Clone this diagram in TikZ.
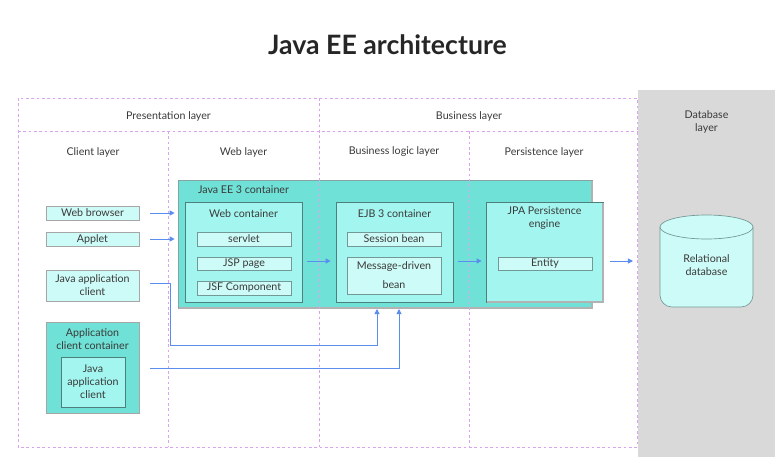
\documentclass[tikz,border=0pt]{standalone}
\usepackage{fontspec}
\setmainfont{Lato}
\usetikzlibrary{arrows.meta,fit,calc}
\definecolor{vdash}{HTML}{D9A3EE}
\definecolor{dbgray}{HTML}{D9D9D9}
\definecolor{teal1}{HTML}{6FE1D6}
\definecolor{teal2}{HTML}{A3F6F0}
\definecolor{teal3}{HTML}{CDFBF7}
\definecolor{bord}{HTML}{4F7F7C}
\definecolor{txt}{HTML}{3A3A3A}
\definecolor{arrblue}{HTML}{5B8DEF}
\tikzset{
  lbl/.style={font=\fontsize{8pt}{9.6pt}\selectfont, text=txt, align=center, inner sep=0},
  outerbox/.style={fill=teal1, draw=bord!70, line width=0.5pt, inner sep=0},
  midbox/.style={fill=teal2, draw=bord, line width=0.5pt, inner sep=0},
  itembox/.style={fill=teal3, draw=bord!80, line width=0.5pt, inner sep=0},
  clientbox/.style={fill=teal3, draw=gray!70, line width=0.6pt, inner sep=0},
  frame/.style={draw=vdash, dashed, dash pattern=on 2pt off 2pt, line width=0.5pt},
  arr/.style={draw=arrblue, line width=0.7pt, -{Triangle[length=3.8pt,width=3.8pt]}},
}
\begin{document}
\begin{tikzpicture}[x=0.75pt,y=-0.75pt]
\useasboundingbox (0,0) rectangle (775,457);
\fill[white] (0,0) rectangle (775,457);
% database region
\fill[dbgray] (638,90) rectangle (775,457);
% title
\node[font=\fontsize{20pt}{22pt}\selectfont\bfseries, text=black!85] (title) at (387.5,45) {Java EE architecture};
% layer labels
\node[lbl] (pres) at (168.5,116) {Presentation layer};
\node[lbl] (bus) at (469,116) {Business layer};
\node[lbl] (client) at (93,152) {Client layer};
\node[lbl] (web) at (243.5,152) {Web layer};
\node[lbl] (bll) at (394,152) {Business logic layer};
\node[lbl] (pers) at (544,152) {Persistence layer};
\node[lbl] (dbl) at (706.5,122) {Database\\layer};
% Java EE 3 container
\node[outerbox, fit={(178,180) (592,308)}] (javaee) {};
\draw[gray!60, line width=1pt] (178.5,308) -- (592,308) -- (592,181);
\node[lbl] (javaeel) at (243.5,190) {Java EE 3 container};
% web container
\node[midbox, fit={(185,202) (302,302)}] (webc) {};
\node[lbl] (webcl) at (243.5,214) {Web container};
\node[itembox, fit={(197,232) (291,246)}] (servlet) {};
\node[lbl] at (servlet.center) {servlet};
\node[itembox, fit={(197,257) (291,270)}] (jsp) {};
\node[lbl] at (jsp.center) {JSP page};
\node[itembox, fit={(197,281) (291,295)}] (jsf) {};
\node[lbl] at (jsf.center) {JSF Component};
% EJB container
\node[midbox, fit={(336,202) (453,302)}] (ejb) {};
\node[lbl] (ejbl) at (394.5,214) {EJB 3 container};
\node[itembox, fit={(347,232) (441,246)}] (session) {};
\node[lbl] at (session.center) {Session bean};
\node[itembox, fit={(347,257) (441,294)}] (mdb) {};
\node[lbl] (mdbl1) at (394,267) {Message-driven};
\node[lbl] (mdbl2) at (394,285) {bean};
% JPA
\node[midbox, fit={(486,202) (603,302)}] (jpa) {};
\draw[gray!60, line width=1pt] (486.5,302) -- (603,302) -- (603,203);
\node[lbl] (jpal) at (544.5,218) {JPA Persistence\\engine};
\node[itembox, fit={(498,257) (592,270)}] (entity) {};
\node[lbl] at (entity.center) {Entity};
% clients
\node[clientbox, fit={(46,206) (139,220)}] (wb) {};
\node[lbl] at (wb.center) {Web browser};
\node[clientbox, fit={(46,232) (139,246)}] (applet) {};
\node[lbl] at (applet.center) {Applet};
\node[clientbox, fit={(46,270) (139,301)}] (jac) {};
\node[lbl] at (jac.center) {Java application\\client};
\node[outerbox, draw=gray!70, line width=0.6pt, fit={(46,322) (139,413)}] (acc) {};
\node[lbl] (accl) at (92.5,339) {Application\\client container};
\node[midbox, fit={(61,357) (125,407)}] (jac2) {};
\node[lbl] at (jac2.center) {Java\\application\\client};
% database
\fill[teal3] (660,227) [rounded corners=9pt] -- (660,307) -- (753,307) [sharp corners] -- (753,227) arc (0:180:46.5 and 12) -- cycle;
\draw[bord!80, line width=0.5pt] (660,227) [rounded corners=9pt] -- (660,307) -- (753,307) [sharp corners] -- (753,227);
\draw[bord!80, line width=0.5pt, fill=teal3] (706.5,227) ellipse (46.5 and 12);
\node[lbl] (db) at (706.5,265) {Relational\\database};
\coordinate (dbw) at (633,261);
% dashed frames
\draw[frame] (18,98) rectangle (637,447);
\draw[frame] (18,131) -- (637,131);
\draw[frame] (319,98) -- (319,447);
\draw[frame] (168,131) -- (168,447);
\draw[frame] (469,131) -- (469,447);
% arrows
\draw[arr] ($(wb.east)+(11,0)$) -- ($(webc.west |- wb.east)+(-10,0)$);
\draw[arr] ($(applet.east)+(11,0)$) -- ($(webc.west |- applet.east)+(-10,0)$);
\draw[arr] ($(webc.east)+(5,9)$) -- ($(ejb.west)+(-5,9)$);
\draw[arr] ($(ejb.east)+(5,9)$) -- ($(jpa.west)+(-4,9)$);
\draw[arr] ($(jpa.east)+(7,9)$) -- (dbw);
\draw[arr] ($(jac.east)+(11,-2.5)$) -| (170,345) -| (377,309);
\draw[arr] ($(acc.east)+(11,0.5)$) -| (399,309);
\end{tikzpicture}
\end{document}
